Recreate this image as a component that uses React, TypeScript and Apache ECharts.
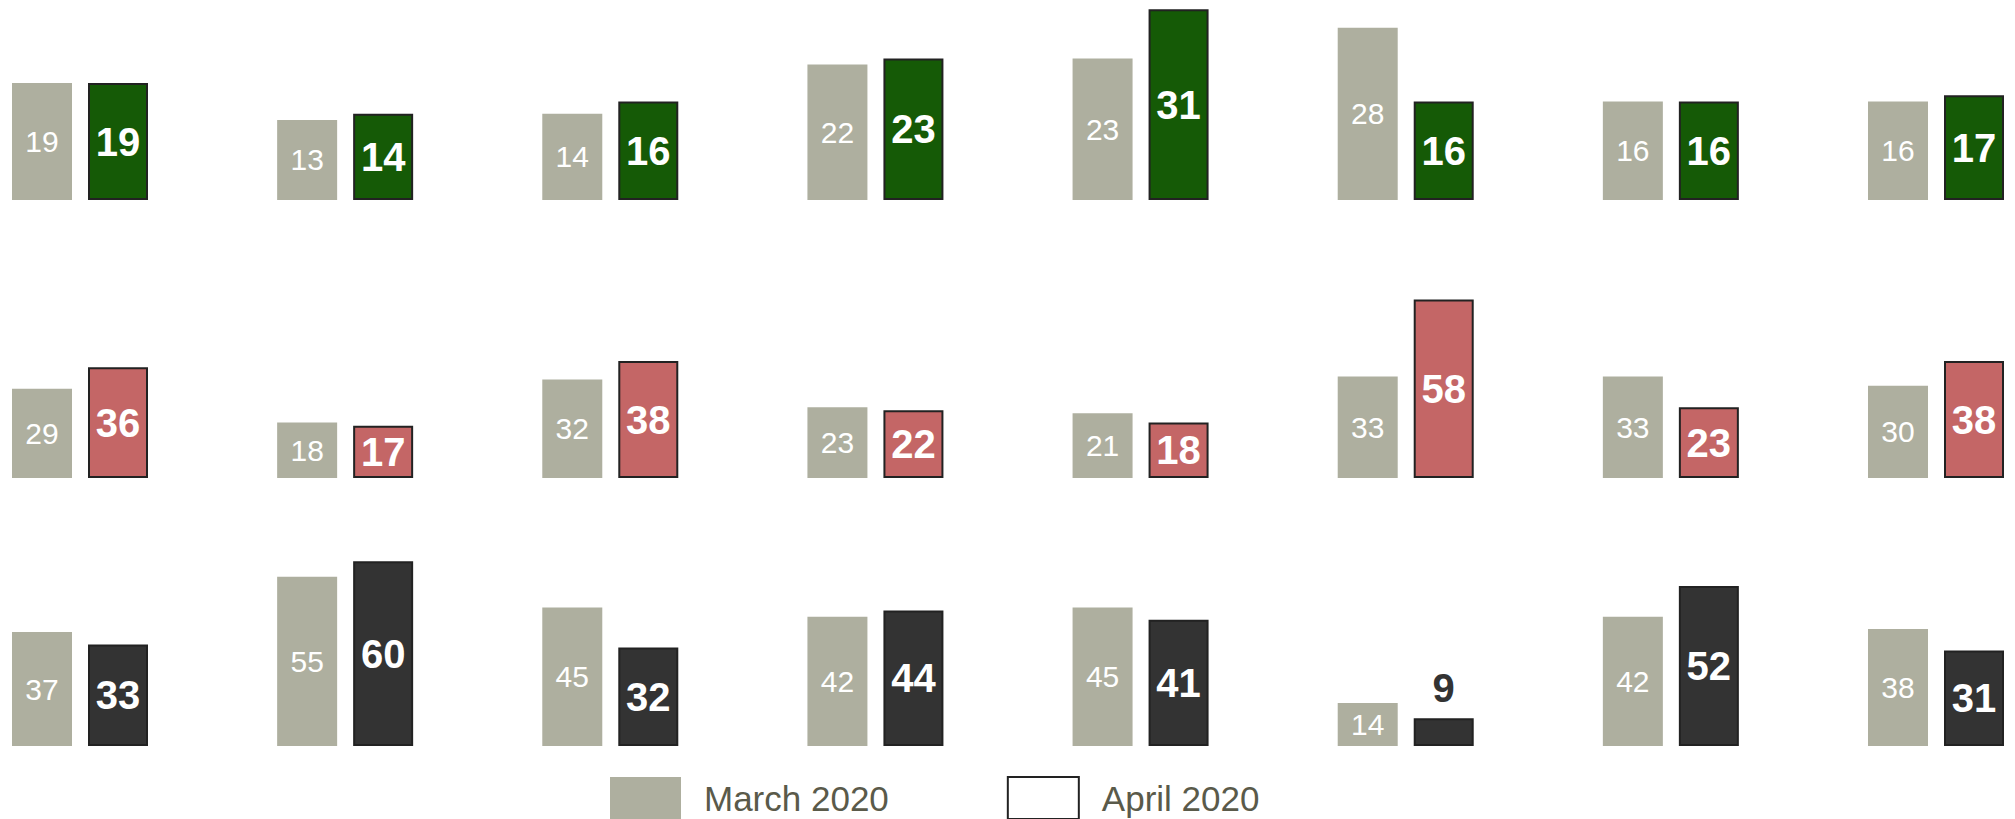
import React, { useEffect, useRef } from "react";
import * as echarts from "echarts";

const categories = ["1", "2", "3", "4", "5", "6", "7", "8"];
const row1March = [19, 13, 14, 22, 23, 28, 16, 16];
const row1April = [19, 14, 16, 23, 31, 16, 16, 17];
const row2March = [29, 18, 32, 23, 21, 33, 33, 30];
const row2April = [36, 17, 38, 22, 18, 58, 23, 38];
const row3March = [37, 55, 45, 42, 45, 14, 42, 38];
const row3April = [33, 60, 32, 44, 41, 9, 52, 31];

const MARCH = "March 2020";
const APRIL = "April 2020";
const marchColor = "#AEAF9F";
const aprilColors = ["#155A06", "#C46666", "#333333"];

const rows = [
  { march: row1March, april: row1April, max: 32, top: 3 },
  { march: row2March, april: row2April, max: 64, top: 281 },
  { march: row3March, april: row3April, max: 64, top: 549 },
];
const GRID_H = 197;
const FONT = "'Liberation Sans', Arial, sans-serif";

export default function App() {
  const ref = useRef<HTMLDivElement>(null);
  useEffect(() => {
    if (!ref.current) return;
    const chart = echarts.init(ref.current, null, { renderer: "svg" });
    const grid: any[] = [];
    const xAxis: any[] = [];
    const yAxis: any[] = [];
    const series: any[] = [];
    rows.forEach((r, i) => {
      grid.push({ left: 80, right: 79, top: r.top, height: GRID_H });
      xAxis.push({
        type: "category",
        gridIndex: i,
        data: categories,
        boundaryGap: false,
        show: false,
      });
      yAxis.push({ type: "value", gridIndex: i, min: 0, max: r.max, show: false, splitLine: { show: false } });
      const scale = GRID_H / r.max;
      series.push({
        name: MARCH,
        type: "bar",
        xAxisIndex: i,
        yAxisIndex: i,
        barWidth: 60,
        barGap: "26.67%",
        itemStyle: { color: marchColor },
        label: {
          show: true,
          position: "inside",
          color: "#ffffff",
          fontSize: 30,
          fontFamily: FONT,
        },
        data: r.march,
      });
      series.push({
        name: APRIL,
        type: "bar",
        xAxisIndex: i,
        yAxisIndex: i,
        barWidth: 60,
        barGap: "26.67%",
        itemStyle: { color: aprilColors[i], borderColor: "#222222", borderWidth: 2 },
        label: {
          show: true,
          position: "inside",
          color: "#ffffff",
          fontSize: 40,
          fontWeight: "bold",
          fontFamily: FONT,
        },
        data: r.april.map((v) =>
          v * scale < 40
            ? { value: v, label: { position: "top", color: "#333333", distance: 10 } }
            : v
        ),
      });
    });
    chart.setOption({
      animation: false,
      grid,
      xAxis,
      yAxis,
      series,
      legend: {
        left: 610,
        top: 776,
        padding: 0,
        itemWidth: 71,
        itemHeight: 42,
        itemGap: 118,
        icon: "rect",
        textStyle: {
          color: "#5A5A4A",
          fontSize: 35,
          fontFamily: FONT,
          padding: [0, 0, 0, 18],
        },
        data: [
          { name: MARCH, itemStyle: { color: marchColor } },
          { name: APRIL, itemStyle: { color: "#ffffff", borderColor: "#222222", borderWidth: 2 } },
        ],
      },
    });
    return () => chart.dispose();
  }, []);
  return (
    <div
      ref={ref}
      style={{ position: "absolute", left: 0, top: 0, width: 2015, height: 819 }}
    />
  );
}
